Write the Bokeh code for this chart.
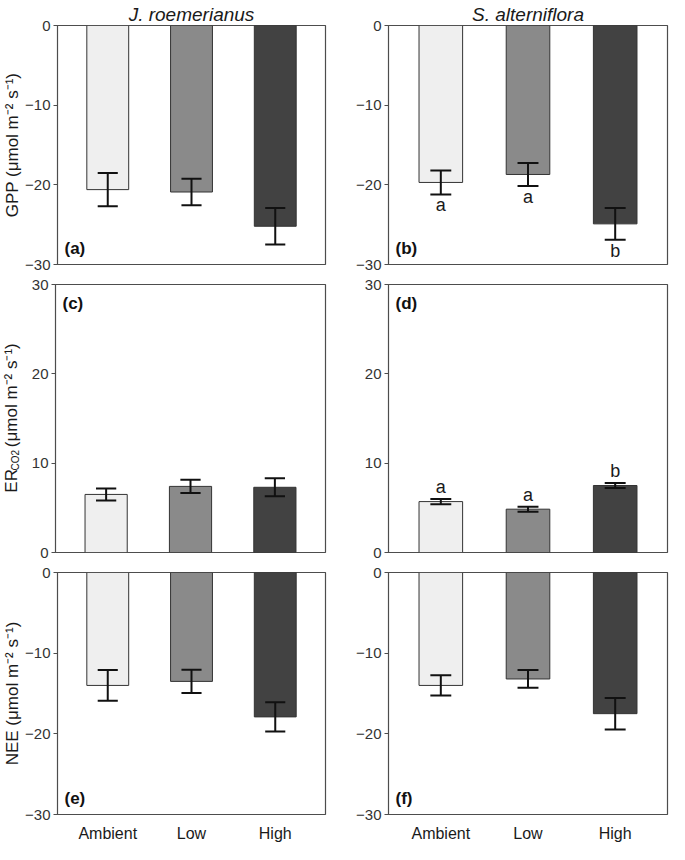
import math
from bokeh.plotting import figure
from bokeh.layouts import column, row
from bokeh.models import Range1d, FixedTicker, Title
from bokeh.embed import file_html
from bokeh.resources import INLINE
from bokeh.core.properties import value

# ---------------- data ----------------
treatments = ["Ambient", "Low", "High"]
x_pos = [1, 2, 3]

gpp_jr = [-20.6, -20.9, -25.2]
gpp_jr_se = [2.1, 1.65, 2.3]
gpp_sa = [-19.7, -18.7, -24.9]
gpp_sa_se = [1.5, 1.45, 2.0]
gpp_sa_letters = ["a", "a", "b"]

er_jr = [6.5, 7.4, 7.3]
er_jr_se = [0.67, 0.73, 1.0]
er_sa = [5.7, 4.85, 7.5]
er_sa_se = [0.3, 0.28, 0.28]
er_sa_letters = ["a", "a", "b"]

nee_jr = [-14.0, -13.5, -17.9]
nee_jr_se = [1.9, 1.45, 1.8]
nee_sa = [-14.0, -13.2, -17.5]
nee_sa_se = [1.25, 1.1, 1.95]

neg_ticks = [-30, -20, -10, 0]
pos_ticks = [0, 10, 20, 30]
species = ["J. roemerianus", "S. alterniflora"]
panel_tags = ["(a)", "(b)", "(c)", "(d)", "(e)", "(f)"]
unit_label = " (\u03bcmol m\u207b\u00b2 s\u207b\u00b9)"
er_label_parts = ["ER", "CO2", "(\u03bcmol m\u207b\u00b2 s\u207b\u00b9)"]

# ---------------- style ----------------
FONT = "Liberation Sans"
bar_colors = ["#efefef", "#8a8a8a", "#424242"]
FRAME_COLOR = "#4d4d4d"
TEXT_COLOR = "#1a1a1a"
X_START, X_END = 0.4, 3.6
BAR_W = 0.5
CAP_W = 0.24
AXIS_LABEL_PX = 17

LEFT_W, RIGHT_W = 327, 342
LEFT_MBL, RIGHT_MBL = 55, 61
MBR = 2
LABEL_FIG_W = 22


def make_panel(vals, errs, ylim, yticks, tag, tag_top, width, mbl, height, mbt, mbb,
               letters=None, title=None, xlabels=False, ylabel=None, ylabel_standoff=0):
    p = figure(width=width, height=height, output_backend="svg", toolbar_location=None,
               x_range=Range1d(X_START, X_END), y_range=Range1d(*ylim),
               x_axis_location="below" if xlabels else None, y_axis_location="left",
               min_border_left=mbl, min_border_right=MBR, min_border_top=mbt,
               min_border_bottom=mbb, title=None)
    p.background_fill_color = "white"
    p.border_fill_color = "white"
    p.outline_line_color = FRAME_COLOR
    p.outline_line_width = 1.2
    p.xgrid.visible = False
    p.ygrid.visible = False

    if title:
        p.title = Title(text=title, align="center", text_font_style="italic",
                        text_font_size="19px", text_font=FONT, text_color=TEXT_COLOR,
                        standoff=2)
        p.title_location = "above"

    ya = p.yaxis[0]
    ya.ticker = FixedTicker(ticks=yticks)
    ya.minor_tick_line_color = None
    ya.major_tick_out = 4
    ya.major_tick_in = 0
    ya.major_tick_line_color = FRAME_COLOR
    ya.axis_line_color = FRAME_COLOR
    ya.major_label_standoff = 3
    ya.major_label_text_font = FONT
    ya.major_label_text_font_size = "15px"
    ya.major_label_text_color = "#333333"
    if ylabel:
        ya.axis_label = ylabel
        ya.axis_label_text_font = FONT
        ya.axis_label_text_font_size = f"{AXIS_LABEL_PX}px"
        ya.axis_label_text_font_style = "normal"
        ya.axis_label_text_color = TEXT_COLOR
        ya.axis_label_standoff = ylabel_standoff

    if xlabels:
        xa = p.xaxis[0]
        xa.ticker = FixedTicker(ticks=x_pos)
        xa.major_label_overrides = {x: t for x, t in zip(x_pos, treatments)}
        xa.major_tick_line_color = None
        xa.minor_tick_line_color = None
        xa.axis_line_color = None
        xa.major_label_standoff = 4
        xa.major_label_text_font = FONT
        xa.major_label_text_font_size = "16px"
        xa.major_label_text_color = TEXT_COLOR

    # bars
    p.vbar(x=x_pos, top=vals, bottom=0, width=BAR_W, fill_color=bar_colors,
           line_color="#333333", line_width=1)

    # error bars
    lo = [v - e for v, e in zip(vals, errs)]
    hi = [v + e for v, e in zip(vals, errs)]
    p.segment(x0=x_pos, y0=lo, x1=x_pos, y1=hi, line_color="#111111", line_width=2)
    xl = [x - CAP_W / 2 for x in x_pos]
    xr = [x + CAP_W / 2 for x in x_pos]
    p.segment(x0=xl, y0=lo, x1=xr, y1=lo, line_color="#111111", line_width=2)
    p.segment(x0=xl, y0=hi, x1=xr, y1=hi, line_color="#111111", line_width=2)

    # significance letters
    if letters:
        if ylim[0] < 0:
            p.text(x=x_pos, y=lo, text=letters, text_font=value(FONT), text_font_size="18px",
                   text_align="center", text_baseline="top", text_color=TEXT_COLOR, y_offset=1)
        else:
            p.text(x=x_pos, y=hi, text=letters, text_font=value(FONT), text_font_size="18px",
                   text_align="center", text_baseline="bottom", text_color=TEXT_COLOR, y_offset=-2)

    # panel tag
    if tag_top:
        p.text(x=[X_START], y=[ylim[1]], text=[tag], text_font=value(FONT), text_font_size="17px",
               text_font_style="bold", text_align="left", text_baseline="top",
               x_offset=7, y_offset=9, text_color="#111111")
    else:
        p.text(x=[X_START], y=[ylim[0]], text=[tag], text_font=value(FONT), text_font_size="17px",
               text_font_style="bold", text_align="left", text_baseline="bottom",
               x_offset=7, y_offset=-7, text_color="#111111")
    return p


# Row 1: GPP
R1_H, R1_T, R1_B = 274, 24, 10
pa = make_panel(gpp_jr, gpp_jr_se, (-30, 0), neg_ticks, panel_tags[0], False,
                LEFT_W, LEFT_MBL, R1_H, R1_T, R1_B, title=species[0], ylabel="GPP" + unit_label)
pb = make_panel(gpp_sa, gpp_sa_se, (-30, 0), neg_ticks, panel_tags[1], False,
                RIGHT_W, RIGHT_MBL, R1_H, R1_T, R1_B, letters=gpp_sa_letters, title=species[1])

# Row 2: ER (its y label, ER with subscript CO2, is drawn in a narrow text-only figure)
R2_H, R2_T, R2_B = 288, 10, 10
pc = make_panel(er_jr, er_jr_se, (0, 30), pos_ticks, panel_tags[2], True,
                LEFT_W - LABEL_FIG_W, LEFT_MBL - LABEL_FIG_W, R2_H, R2_T, R2_B)
pd = make_panel(er_sa, er_sa_se, (0, 30), pos_ticks, panel_tags[3], True,
                RIGHT_W, RIGHT_MBL, R2_H, R2_T, R2_B, letters=er_sa_letters)

lab = figure(width=LABEL_FIG_W, height=R2_H, output_backend="svg", toolbar_location=None,
             x_range=Range1d(0, LABEL_FIG_W), y_range=Range1d(0, R2_H),
             x_axis_location=None, y_axis_location=None, title=None,
             min_border_left=0, min_border_right=0, min_border_top=0, min_border_bottom=0)
lab.outline_line_color = None
lab.xgrid.visible = False
lab.ygrid.visible = False
lab.background_fill_color = "white"
lab.border_fill_color = "white"

s = AXIS_LABEL_PX / 16.0
part_sizes = [AXIS_LABEL_PX, 10, AXIS_LABEL_PX]
part_widths = [22.5 * s, 25.0, 104.0 * s]
part_x = [10.5, 14.5, 10.5]
y_cursor = R2_B + (R2_H - R2_T - R2_B) / 2.0 - sum(part_widths) / 2.0
for txt, fs, w, xx in zip(er_label_parts, part_sizes, part_widths, part_x):
    lab.text(x=[xx], y=[y_cursor], text=[txt], angle=math.pi / 2, text_font=value(FONT),
             text_font_size=f"{fs}px", text_align="left", text_baseline="middle",
             text_color=TEXT_COLOR)
    y_cursor += w

# Row 3: NEE
R3_H, R3_T, R3_B = 282, 10, 24
pe = make_panel(nee_jr, nee_jr_se, (-30, 0), neg_ticks, panel_tags[4], False,
                LEFT_W, LEFT_MBL, R3_H, R3_T, R3_B, xlabels=True, ylabel="NEE" + unit_label)
pf = make_panel(nee_sa, nee_sa_se, (-30, 0), neg_ticks, panel_tags[5], False,
                RIGHT_W, RIGHT_MBL, R3_H, R3_T, R3_B, xlabels=True)

layout = column(row(pa, pb), row(lab, pc, pd), row(pe, pf))
open("out.html", "w").write(file_html(layout, INLINE))
